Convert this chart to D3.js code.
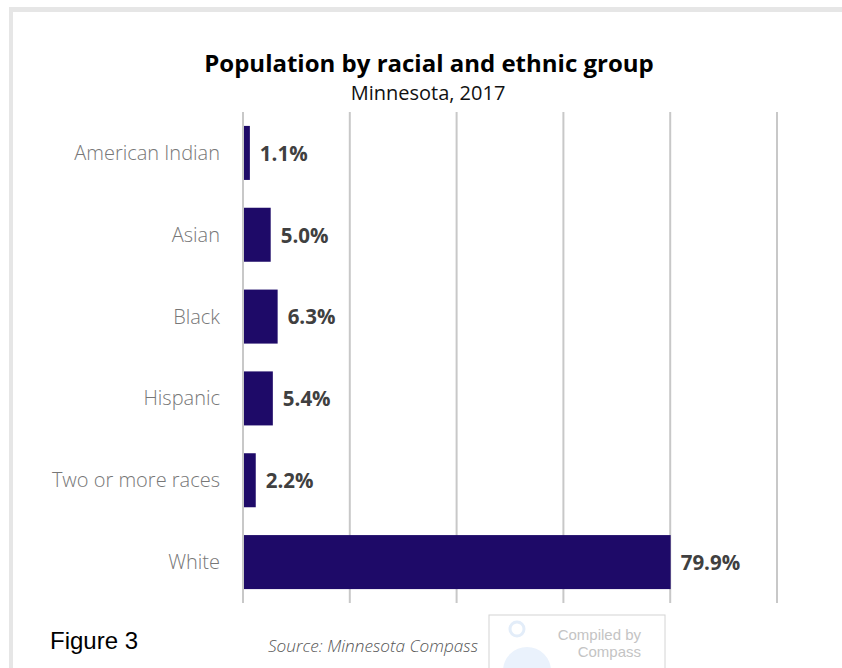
<!DOCTYPE html>
<html>
<head>
<meta charset="utf-8">
<script src="https://cdn.jsdelivr.net/npm/d3@7"></script>
<style>
  body { margin: 0; background: #fff; }
  svg { display: block; }
</style>
</head>
<body>
<div id="chart"></div>
<script>
const categories = ["American Indian", "Asian", "Black", "Hispanic", "Two or more races", "White"];
const values = [1.1, 5.0, 6.3, 5.4, 2.2, 79.9];
const gridTicks = [0, 20, 40, 60, 80, 100];

const W = 842, H = 668;
const margin = { top: 112, right: 65, bottom: 65, left: 243 };

const svg = d3.select("#chart").append("svg")
    .attr("width", W)
    .attr("height", H);

// grey frame round the card
svg.append("rect").attr("x", 9).attr("y", 7).attr("width", W).attr("height", H).attr("fill", "#e6e6e6");
svg.append("rect").attr("x", 13).attr("y", 12).attr("width", W).attr("height", H).attr("fill", "#fff");

const x = d3.scaleLinear()
    .domain([0, 100])
    .range([margin.left, W - margin.right]);

const y = d3.scaleBand()
    .domain(categories)
    .range([margin.top, H - margin.bottom])
    .paddingInner(0.34)
    .paddingOuter(0.17);

// vertical grid lines
svg.append("g")
    .selectAll("line")
    .data(gridTicks)
    .enter().append("line")
    .attr("x1", d => x(d))
    .attr("x2", d => x(d))
    .attr("y1", margin.top)
    .attr("y2", H - margin.bottom)
    .style("stroke", "#c8c8c8")
    .style("stroke-width", "2px");

svg.append("g")
    .selectAll("rect")
    .data(values)
    .enter().append("rect")
    .attr("x", x(0) + 1)
    .attr("y", (d, i) => y(categories[i]))
    .attr("width", d => x(d) - x(0))
    .attr("height", y.bandwidth())
    .style("fill", "#1e0a68");

// category labels
svg.append("g")
    .selectAll("text")
    .data(categories)
    .enter().append("text")
    .attr("x", 220)
    .attr("y", d => y(d) + y.bandwidth() / 2)
    .attr("dy", "0.35em")
    .attr("text-anchor", "end")
    .style("font-family", "'Open Sans', sans-serif")
    .style("font-weight", 300)
    .style("font-size", "20px")
    .style("fill", "#777")
    .text(d => d);

// value labels
svg.append("g")
    .selectAll("text")
    .data(values)
    .enter().append("text")
    .attr("x", d => x(d) + 11)
    .attr("y", (d, i) => y(categories[i]) + y.bandwidth() / 2)
    .attr("dy", "0.38em")
    .style("font-family", "'Open Sans', sans-serif")
    .style("font-weight", "bold")
    .style("font-size", "20.5px")
    .style("fill", "#404040")
    .text(d => d.toFixed(1) + "%");

// titles
svg.append("text")
    .attr("x", 429)
    .attr("y", 72)
    .attr("text-anchor", "middle")
    .style("font-family", "'Open Sans', sans-serif")
    .style("font-weight", "bold")
    .style("font-size", "24px")
    .style("fill", "#000")
    .text("Population by racial and ethnic group");

svg.append("text")
    .attr("x", 428)
    .attr("y", 100)
    .attr("text-anchor", "middle")
    .style("font-family", "'Open Sans', sans-serif")
    .style("font-size", "20px")
    .style("fill", "#111")
    .text("Minnesota, 2017");

// footer
svg.append("text")
    .attr("x", 50)
    .attr("y", 649)
    .style("font-family", "'Liberation Sans', Arial, sans-serif")
    .style("font-size", "24px")
    .style("fill", "#000")
    .text("Figure 3");

svg.append("text")
    .attr("x", 268)
    .attr("y", 652)
    .style("font-family", "'Open Sans', sans-serif")
    .style("font-style", "italic")
    .style("font-weight", 300)
    .style("font-size", "17.2px")
    .style("fill", "#555")
    .text("Source: Minnesota Compass");

const logo = svg.append("g").attr("transform", "translate(489,615)");
logo.append("rect")
    .attr("width", 176)
    .attr("height", 70)
    .style("fill", "#fff")
    .style("stroke", "#d4d4d4")
    .style("stroke-width", "1px");
logo.append("path")
    .attr("d", "M14,56 A24,24 0 0 1 62,56 Z")
    .style("fill", "#eaf2fc");
logo.append("circle")
    .attr("cx", 28).attr("cy", 14).attr("r", 7)
    .style("fill", "none")
    .style("stroke", "#e3edf9")
    .style("stroke-width", "3px");
logo.append("text")
    .attr("x", 152).attr("y", 25)
    .attr("text-anchor", "end")
    .style("font-family", "'Liberation Sans', Arial, sans-serif")
    .style("font-size", "15px")
    .style("fill", "#c4c4c4")
    .text("Compiled by");
logo.append("text")
    .attr("x", 152).attr("y", 42)
    .attr("text-anchor", "end")
    .style("font-family", "'Liberation Sans', Arial, sans-serif")
    .style("font-size", "15px")
    .style("fill", "#c4c4c4")
    .text("Compass");
</script>
</body>
</html>
